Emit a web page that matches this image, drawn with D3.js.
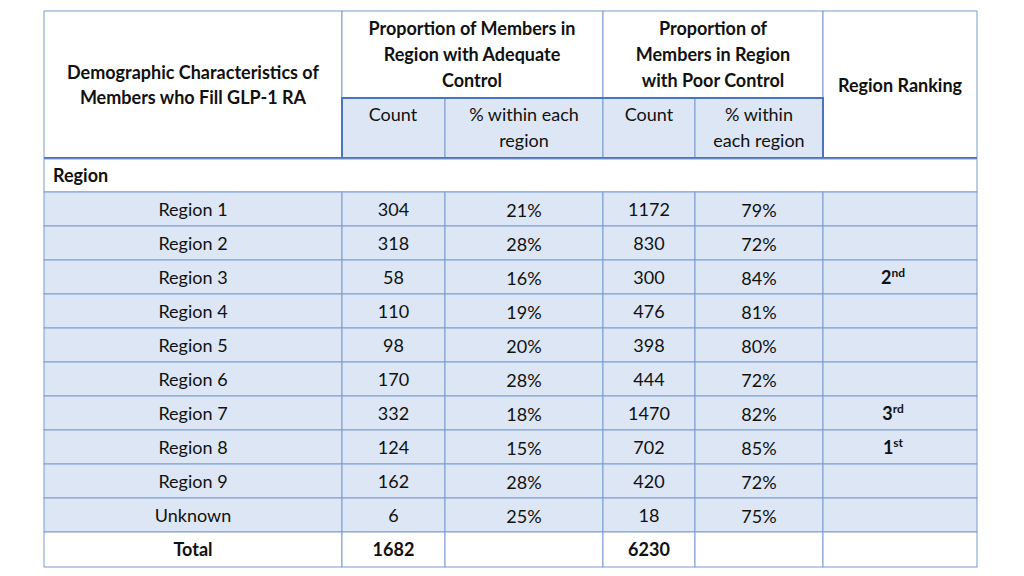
<!DOCTYPE html>
<html>
<head>
<meta charset="utf-8">
<script src="https://cdn.jsdelivr.net/npm/d3@7"></script>
<style>
  body { margin: 0; background: #fff; }
  text { font-family: Lato, "Open Sans", sans-serif; font-size: 18px; fill: #111; }
</style>
</head>
<body>
<svg id="chart" width="1024" height="576"></svg>
<script>
// table data
const regions = ['Region 1', 'Region 2', 'Region 3', 'Region 4', 'Region 5', 'Region 6', 'Region 7', 'Region 8', 'Region 9', 'Unknown']
const adequateCount = [304, 318, 58, 110, 98, 170, 332, 124, 162, 6]
const adequatePct = [21, 28, 16, 19, 20, 28, 18, 15, 28, 25]
const poorCount = [1172, 830, 300, 476, 398, 444, 1470, 702, 420, 18]
const poorPct = [79, 72, 84, 81, 80, 72, 82, 85, 72, 75]
const ranking = ['', '', ['2', 'nd'], '', '', '', ['3', 'rd'], ['1', 'st'], '', '']
const totals = ['Total', 1682, '', 6230, '', '']

const svg = d3.select('#chart')
const colX = [44, 342, 445, 603, 695, 823, 977]
const fill = '#dce6f4'
const line = '#7b9bd3'
const thick = '#4a74bf'

// row scale for data rows
const y = d3.scaleBand().domain(d3.range(regions.length + 1)).range([192, 567]).paddingInner(0).paddingOuter(0)
// total row is shorter in the picture, keep data rows at 34px
const rowTop = i => 192 + 34 * i
const rowH = i => (i < regions.length ? 34 : 35)

function cell (x0, x1, y0, y1, f, sw, sc) {
  svg.append('rect').attr('x', x0).attr('y', y0).attr('width', x1 - x0).attr('height', y1 - y0)
    .attr('fill', f).attr('stroke', sc || line).attr('stroke-width', sw || 1)
}

function label (x, yy, txt, bold, anchor) {
  return svg.append('text').attr('x', x).attr('y', yy).attr('text-anchor', anchor || 'middle')
    .style('font-weight', bold ? 'bold' : 'normal').text(txt)
}

// header
cell(44, 342, 11, 158, '#fff')
cell(342, 603, 11, 98, '#fff')
cell(603, 823, 11, 98, '#fff')
cell(823, 977, 11, 158, '#fff')
label(193, 79, 'Demographic Characteristics of', true)
label(193, 104, 'Members who Fill GLP-1 RA', true)
;['Proportion of Members in', 'Region with Adequate', 'Control'].forEach((t, i) => label(472, 35 + i * 26, t, true))
;['Proportion of', 'Members in Region', 'with Poor Control'].forEach((t, i) => label(713, 35 + i * 26, t, true))
label(900, 92, 'Region Ranking', true)

// sub header
for (let c = 1; c < 5; c++) cell(colX[c], colX[c + 1], 98, 158, fill)
label(393, 121, 'Count')
label(524, 121, '% within each')
label(524, 147, 'region')
label(649, 121, 'Count')
label(759, 121, '% within')
label(759, 147, 'each region')
svg.append('rect').attr('x', 342).attr('y', 98).attr('width', 481).attr('height', 60)
  .attr('fill', 'none').attr('stroke', thick).attr('stroke-width', 2)
svg.append('line').attr('x1', 44).attr('x2', 977).attr('y1', 158).attr('y2', 158)
  .attr('stroke', thick).attr('stroke-width', 2)

// region label row
cell(44, 977, 159, 192, '#fff')
label(53, 182, 'Region', true, 'start')

// data rows
regions.forEach((r, i) => {
  const t = rowTop(i)
  const vals = [r, adequateCount[i], adequatePct[i] + '%', poorCount[i], poorPct[i] + '%']
  for (let c = 0; c < 6; c++) cell(colX[c], colX[c + 1], t, t + 34, fill)
  vals.forEach((v, c) => {
    const cx = c === 0 ? 193 : (colX[c] + colX[c + 1]) / 2
    label(cx, t + 24 + (c === 2 || c === 4 ? 1 : 0), v)
  })
  if (ranking[i]) {
    const tx = label(893, t + 24, ranking[i][0], true)
    tx.append('tspan').attr('dy', -7).style('font-size', '12px').text(ranking[i][1])
  }
})

// total row
const tt = rowTop(regions.length)
for (let c = 0; c < 6; c++) cell(colX[c], colX[c + 1], tt, tt + rowH(regions.length), '#fff')
totals.forEach((v, c) => {
  if (v === '') return
  const cx = c === 0 ? 193 : (colX[c] + colX[c + 1]) / 2
  label(cx, tt + 24, v, true)
})
</script>
</body>
</html>
